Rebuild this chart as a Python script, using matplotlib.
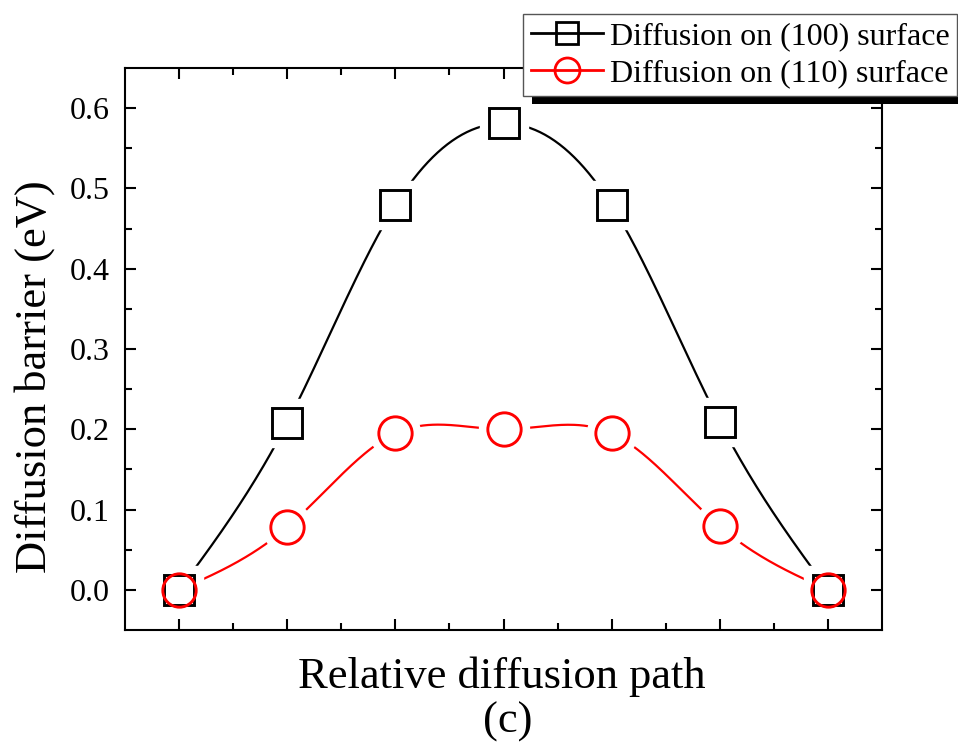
import numpy as np
import matplotlib
matplotlib.use("Agg")
import matplotlib.pyplot as plt
from matplotlib.lines import Line2D
from matplotlib.patches import Rectangle

plt.rcParams['font.family'] = ['Liberation Serif', 'DejaVu Serif']

path_pos = [0, 1, 2, 3, 4, 5, 6]
barrier_100 = [0.0, 0.208, 0.479, 0.581, 0.479, 0.209, 0.0]
barrier_110 = [0.0, 0.078, 0.195, 0.200, 0.195, 0.079, 0.0]
label_100 = "Diffusion on (100) surface"
label_110 = "Diffusion on (110) surface"
yticks = [0.0, 0.1, 0.2, 0.3, 0.4, 0.5, 0.6]


def natural_spline(x, y, n=400):
    x = np.asarray(x, float); y = np.asarray(y, float)
    m = len(x); h = np.diff(x)
    A = np.zeros((m, m)); b = np.zeros(m)
    A[0, 0] = A[-1, -1] = 1
    for i in range(1, m - 1):
        A[i, i - 1] = h[i - 1]; A[i, i] = 2 * (h[i - 1] + h[i]); A[i, i + 1] = h[i]
        b[i] = 3 * ((y[i + 1] - y[i]) / h[i] - (y[i] - y[i - 1]) / h[i - 1])
    c = np.linalg.solve(A, b)
    xs = np.linspace(x[0], x[-1], n); ys = np.empty_like(xs)
    for k, xv in enumerate(xs):
        i = min(np.searchsorted(x, xv, side='right') - 1, m - 2)
        dx = xv - x[i]
        bb = (y[i + 1] - y[i]) / h[i] - h[i] * (2 * c[i] + c[i + 1]) / 3
        d = (c[i + 1] - c[i]) / (3 * h[i])
        ys[k] = y[i] + bb * dx + c[i] * dx ** 2 + d * dx ** 3
    return xs, ys


fig = plt.figure(figsize=(9.58, 7.56), dpi=100)
ax = fig.add_axes([125 / 958, 1 - 630 / 756, (882 - 125) / 958, (630 - 68) / 756])

styles = [(barrier_100, 'black', 's', 22), (barrier_110, 'red', 'o', 24)]
for yv, col, mk, ms in styles:
    xs, ys = natural_spline(path_pos, yv)
    ax.plot(xs, ys, color=col, lw=1.6, zorder=2)
    ax.plot(path_pos, yv, ls='none', marker=mk, ms=ms + 12, mfc='white', mec='white', mew=1, zorder=3)
for yv, col, mk, ms in styles:
    ax.plot(path_pos, yv, ls='none', marker=mk, ms=ms, mfc='none', mec=col, mew=2.1, zorder=4)

ax.set_xlim(-0.5, 6.5)
ax.set_ylim(-0.05, 0.65)
ax.set_xticks(path_pos)
ax.set_xticks(np.arange(0.5, 6, 1), minor=True)
ax.set_xticklabels([])
ax.set_yticks(yticks)
ax.set_yticklabels([f"{v:.1f}" for v in yticks])
ax.set_yticks(np.arange(0.05, 0.65, 0.1), minor=True)
ax.tick_params(which='both', direction='in', top=True, right=True, width=1.5, labelsize=23, pad=11)
ax.tick_params(which='major', length=8)
ax.tick_params(which='minor', length=5)
for s in ax.spines.values():
    s.set_linewidth(1.5)

ax.set_ylabel("Diffusion barrier (eV)", fontsize=32)
ax.yaxis.label.set_verticalalignment('baseline')
ax.yaxis.set_label_coords((46 - 125) / 757, (630 - 377) / 562)
ax.set_xlabel("Relative diffusion path", fontsize=32)
ax.xaxis.label.set_verticalalignment('baseline')
ax.xaxis.set_label_coords((502 - 125) / 757, (630 - 688) / 562)
fig.text(508 / 958, 1 - 733 / 756, "(c)", fontsize=32, ha='center', va='baseline')

handles = [Line2D([], [], color='black', marker='s', ms=16, mfc='none', mew=2.0, lw=2.0),
           Line2D([], [], color='red', marker='o', ms=18, mfc='none', mew=2.0, lw=2.0)]
fig.patches.append(Rectangle((532 / 958, 1 - 104 / 756), 0.5, 8 / 756, transform=fig.transFigure,
                             facecolor='black', edgecolor='none', zorder=5))
leg = fig.legend(handles, [label_100, label_110], loc='upper left',
                 bbox_to_anchor=(523 / 958, 1 - 14 / 756), bbox_transform=fig.transFigure,
                 fontsize=23, frameon=True, fancybox=False, framealpha=1, edgecolor='#555555',
                 handlelength=2.25, handletextpad=0.22, borderpad=0.24, labelspacing=0.24,
                 borderaxespad=0)
leg.get_frame().set_linewidth(1.0)
leg.set_zorder(6)

fig.savefig("out.png", dpi=100)
